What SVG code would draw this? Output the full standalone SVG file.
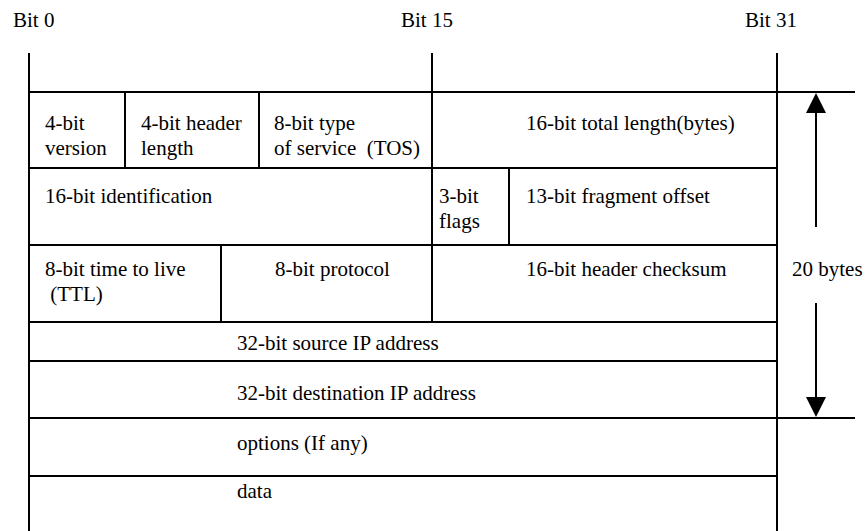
<svg xmlns="http://www.w3.org/2000/svg" width="868" height="531" viewBox="0 0 868 531">
  <style>
    .cell { fill: #fff; stroke: #000; stroke-width: 2; }
    .rule { stroke: #000; stroke-width: 2; fill: none; }
    .lbl { font-family: 'Liberation Serif', 'Times New Roman', Times, 'DejaVu Serif', serif; font-size: 21px; fill: #000; }
    .head { fill: #000; }
  </style>
  <rect width="868" height="531" fill="#fff"/>

  <g font-family="Liberation Serif, Times New Roman, DejaVu Serif, serif">
  <!-- bit position labels -->
  <g id="bit-labels">
    <text class="lbl" x="13" y="27">Bit 0</text>
    <text class="lbl" x="401" y="27">Bit 15</text>
    <text class="lbl" x="745" y="27">Bit 31</text>
  </g>

  <!-- row 1 -->
  <g id="version">
    <rect class="cell" x="29" y="92" width="96" height="76"/>
    <text class="lbl" x="45" y="130">4-bit</text>
    <text class="lbl" x="45" y="155">version</text>
  </g>
  <g id="header-length">
    <rect class="cell" x="125" y="92" width="134" height="76"/>
    <text class="lbl" x="141" y="130">4-bit header</text>
    <text class="lbl" x="141" y="155">length</text>
  </g>
  <g id="tos">
    <rect class="cell" x="259" y="92" width="173" height="76"/>
    <text class="lbl" x="274" y="130">8-bit type</text>
    <text class="lbl" x="274" y="155" xml:space="preserve">of service  (TOS)</text>
  </g>
  <g id="total-length">
    <rect class="cell" x="432" y="92" width="345" height="76"/>
    <text class="lbl" x="526" y="130">16-bit total length(bytes)</text>
  </g>

  <!-- row 2 -->
  <g id="identification">
    <rect class="cell" x="29" y="168" width="403" height="77"/>
    <text class="lbl" x="45" y="203">16-bit identification</text>
  </g>
  <g id="flags">
    <rect class="cell" x="432" y="168" width="77" height="77"/>
    <text class="lbl" x="439" y="203">3-bit</text>
    <text class="lbl" x="439" y="228">flags</text>
  </g>
  <g id="fragment-offset">
    <rect class="cell" x="509" y="168" width="268" height="77"/>
    <text class="lbl" x="526" y="203">13-bit fragment offset</text>
  </g>

  <!-- row 3 -->
  <g id="ttl">
    <rect class="cell" x="29" y="245" width="192" height="77"/>
    <text class="lbl" x="45" y="276">8-bit time to live</text>
    <text class="lbl" x="45" y="301" xml:space="preserve"> (TTL)</text>
  </g>
  <g id="protocol">
    <rect class="cell" x="221" y="245" width="211" height="77"/>
    <text class="lbl" x="275" y="276">8-bit protocol</text>
  </g>
  <g id="checksum">
    <rect class="cell" x="432" y="245" width="345" height="77"/>
    <text class="lbl" x="526" y="276">16-bit header checksum</text>
  </g>

  <!-- full-width rows -->
  <g id="source-ip">
    <rect class="cell" x="29" y="322" width="748" height="39"/>
    <text class="lbl" x="237" y="350">32-bit source IP address</text>
  </g>
  <g id="destination-ip">
    <rect class="cell" x="29" y="361" width="748" height="57"/>
    <text class="lbl" x="237" y="400">32-bit destination IP address</text>
  </g>
  <g id="options">
    <rect class="cell" x="29" y="418" width="748" height="58"/>
    <text class="lbl" x="237" y="450">options (If any)</text>
  </g>
  <g id="data">
    <rect class="cell" x="29" y="476" width="748" height="80"/>
    <text class="lbl" x="237" y="498">data</text>
  </g>

  <!-- size annotation -->
  <g id="header-size">
    <text class="lbl" x="792" y="276">20 bytes</text>
  </g>
  </g>

  <!-- rules and arrows -->
  <g id="connectors">
    <line class="rule" x1="29" y1="53" x2="29" y2="92"/>
    <line class="rule" x1="432" y1="53" x2="432" y2="92"/>
    <line class="rule" x1="777" y1="53" x2="777" y2="92"/>
    <line class="rule" x1="777" y1="92" x2="855" y2="92"/>
    <line class="rule" x1="777" y1="418" x2="855" y2="418"/>
    <line class="rule" x1="816" y1="112" x2="816" y2="227"/>
    <polygon class="head" points="816,93 806,113 826,113"/>
    <line class="rule" x1="816" y1="303" x2="816" y2="398"/>
    <polygon class="head" points="806,397 826,397 816,417"/>
  </g>
</svg>
